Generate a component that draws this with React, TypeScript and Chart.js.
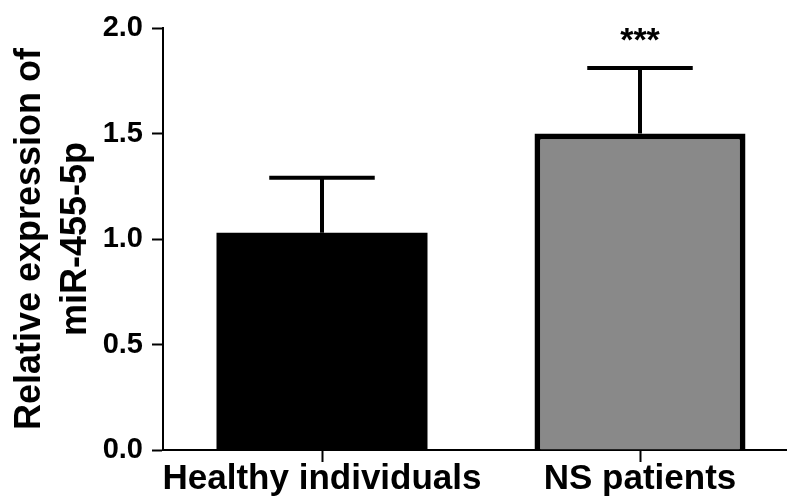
import React, { useEffect, useRef } from "react";
import { Chart, registerables } from "chart.js";

Chart.register(...registerables);

const categories: string[] = ["Healthy individuals", "NS patients"];
const means: number[] = [1.03, 1.5];
const errors: number[] = [0.26, 0.31];
const significance: string[] = ["", "***"];
const barColors: string[] = ["#000000", "#898989"];
const yTitle: string[] = ["Relative expression of", "miR-455-5p"];

const FONT = "'Liberation Sans', Arial, Helvetica, sans-serif";

const errorBarPlugin = {
  id: "errorBars",
  afterDatasetsDraw(chart: any) {
    const ctx = chart.ctx;
    const meta = chart.getDatasetMeta(0);
    const yScale = chart.scales.y;
    ctx.save();
    ctx.strokeStyle = "#000";
    ctx.fillStyle = "#000";
    ctx.lineWidth = 4;
    meta.data.forEach((el: any, i: number) => {
      const x = el.x;
      const yBar = el.y;
      const yTop = yScale.getPixelForValue(means[i] + errors[i]);
      const half = el.width / 4;
      ctx.beginPath();
      ctx.moveTo(x, yBar);
      ctx.lineTo(x, yTop);
      ctx.moveTo(x - half, yTop);
      ctx.lineTo(x + half, yTop);
      ctx.stroke();
      if (significance[i]) {
        ctx.font = `bold 34px ${FONT}`;
        ctx.textAlign = "center";
        ctx.textBaseline = "alphabetic";
        ctx.fillText(significance[i], x, yTop - 17);
      }
    });
    ctx.restore();
  },
};

export default function App() {
  const ref = useRef<HTMLCanvasElement>(null);
  useEffect(() => {
    if (!ref.current) return;
    Chart.defaults.color = "#000";
    const chart = new Chart(ref.current, {
      type: "bar",
      data: {
        labels: categories,
        datasets: [
          {
            data: means,
            backgroundColor: barColors,
            borderColor: "#000",
            borderWidth: [0, 6],
            borderSkipped: "start",
            categoryPercentage: 1,
            barPercentage: 0.6635,
          },
        ],
      },
      options: {
        responsive: false,
        animation: false,
        layout: { padding: { top: 28, right: 0, left: 0, bottom: 0 } },
        plugins: { legend: { display: false }, tooltip: { enabled: false } },
        scales: {
          x: {
            offset: true,
            grid: {
              offset: false,
              drawOnChartArea: false,
              drawTicks: true,
              tickLength: 12,
              tickWidth: 2,
              tickColor: "#000",
            },
            border: { display: true, color: "#000", width: 2 },
            ticks: {
              color: "#000",
              padding: -4,
              maxRotation: 0,
              autoSkip: false,
              font: { family: FONT, size: 35, weight: "bold" },
            },
            afterFit(scale: any) {
              scale.height = 54;
            },
          },
          y: {
            min: 0,
            max: 2,
            grid: {
              drawOnChartArea: false,
              drawTicks: true,
              tickLength: 11,
              tickWidth: 2,
              tickColor: "#000",
            },
            border: { display: true, color: "#000", width: 2 },
            ticks: {
              stepSize: 0.5,
              color: "#000",
              padding: 9,
              font: { family: FONT, size: 29, weight: "bold" },
              callback: (v: any) => Number(v).toFixed(1),
            },
            title: {
              display: true,
              text: yTitle,
              color: "#000",
              padding: { top: 7, bottom: 0 },
              font: { family: FONT, size: 36, weight: "bold", lineHeight: 1.27 },
            },
            afterFit(scale: any) {
              scale.width = 163;
            },
          },
        },
      },
      plugins: [errorBarPlugin],
    });
    return () => chart.destroy();
  }, []);
  return (
    <div
      style={{
        position: "fixed",
        left: 0,
        top: 0,
        width: 787,
        height: 504,
        overflow: "hidden",
        background: "#fff",
      }}
    >
      <canvas ref={ref} width={799} height={504} style={{ display: "block" }} />
    </div>
  );
}
